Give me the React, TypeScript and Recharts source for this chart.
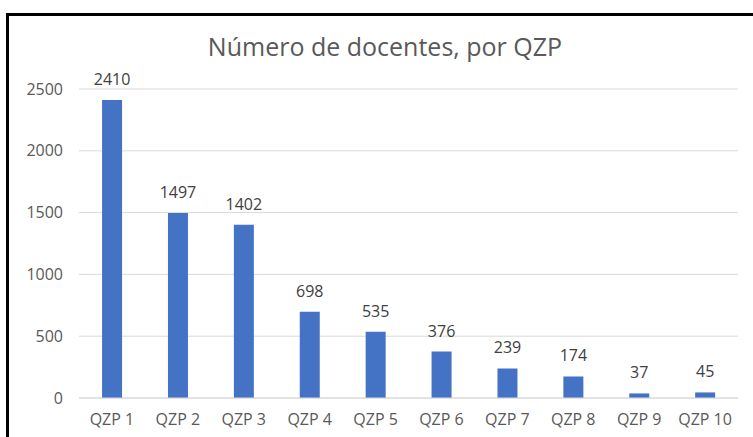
import React from "react";
import { BarChart, Bar, XAxis, YAxis, CartesianGrid, LabelList } from "recharts";

const categories = ["QZP 1", "QZP 2", "QZP 3", "QZP 4", "QZP 5", "QZP 6", "QZP 7", "QZP 8", "QZP 9", "QZP 10"];
const docentes = [2410, 1497, 1402, 698, 535, 376, 239, 174, 37, 45];
const yTicks = [0, 500, 1000, 1500, 2000, 2500];

const data = categories.map((name, i) => ({ name, value: docentes[i] }));

const font = "'Open Sans', sans-serif";

export default function App() {
  return (
    <div style={{ position: "absolute", left: 0, top: 0, width: 753, height: 437, background: "#fff", overflow: "hidden", fontFamily: font }}>
      {/* frame of the pasted Excel chart: only top and left edges are visible */}
      <div
        style={{
          position: "absolute",
          left: 6,
          top: 13,
          width: 760,
          height: 440,
          borderTop: "3px solid #000",
          borderLeft: "3px solid #000",
        }}
      />
      <div
        style={{
          position: "absolute",
          top: 34,
          left: 0,
          width: 770,
          textAlign: "center",
          fontSize: 25,
          lineHeight: "25px",
          color: "#595959",
        }}
      >
        Número de docentes, por QZP
      </div>
      <div style={{ position: "absolute", left: 0, top: 0 }}>
        <BarChart width={753} height={437} data={data} margin={{ top: 89, right: 15, bottom: 9, left: 0 }} barCategoryGap="35%">
          <CartesianGrid vertical={false} stroke="#d9d9d9" />
          <XAxis
            dataKey="name"
            axisLine={{ stroke: "#d9d9d9" }}
            tickLine={false}
            tickSize={0}
            tickMargin={16}
            height={30}
            tick={{ fill: "#595959", fontSize: 16, fontFamily: font }}
            interval={0}
          />
          <YAxis
            domain={[0, 2500]}
            ticks={yTicks}
            axisLine={false}
            tickLine={false}
            tickSize={0}
            tickMargin={16}
            width={79}
            tick={{ fill: "#595959", fontSize: 16, fontFamily: font }}
          />
          <Bar dataKey="value" fill="#4472C4" isAnimationActive={false}>
            <LabelList dataKey="value" position="top" offset={15} fill="#404040" fontSize={16} fontFamily={font} />
          </Bar>
        </BarChart>
      </div>
    </div>
  );
}
